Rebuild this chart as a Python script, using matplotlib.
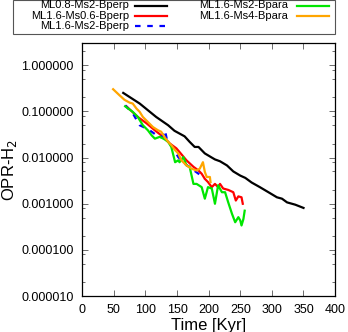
import numpy as np
import matplotlib
matplotlib.use('Agg')
import matplotlib.pyplot as plt
from matplotlib.lines import Line2D
from matplotlib.patches import Rectangle
from matplotlib.ticker import LogLocator, NullFormatter

plt.rcParams['font.family'] = ['Liberation Sans', 'DejaVu Sans']

# Series labels and colours
labels = ['ML0.8-Ms2-Bperp', 'ML1.6-Ms0.6-Bperp', 'ML1.6-Ms2-Bperp',
          'ML1.6-Ms2-Bpara', 'ML1.6-Ms4-Bpara']
colors = ['black', '#ff0000', '#0000ff', '#00e600', '#ffa500']

# time [Kyr] and log10(OPR-H2)
t_black = [65, 91, 117, 136, 146, 162, 170, 178, 184, 194, 205, 210, 218, 229,
           239, 250, 258, 268, 281, 297, 308, 316, 324, 337, 350]
l_black = [-0.60, -0.83, -1.12, -1.30, -1.42, -1.54, -1.66, -1.77, -1.77, -1.91,
           -2.00, -2.04, -2.08, -2.17, -2.30, -2.39, -2.44, -2.54, -2.64, -2.77,
           -2.86, -2.89, -2.97, -3.02, -3.09]

t_red = [70, 88, 102, 115, 128, 139, 149, 154, 165, 176, 184, 189, 194, 199,
         205, 210, 215, 218, 223, 231, 239, 243, 247, 252, 254]
l_red = [-0.89, -1.12, -1.26, -1.41, -1.55, -1.70, -1.80, -1.88, -2.06, -2.20,
         -2.28, -2.35, -2.46, -2.53, -2.64, -2.57, -2.64, -2.57, -2.67, -2.70,
         -2.75, -2.93, -2.84, -2.86, -3.00]

t_blue = [68, 80, 91, 102, 110, 123, 128, 131, 134, 144, 152, 162, 173, 184, 193]
l_blue = [-0.87, -1.04, -1.30, -1.37, -1.44, -1.57, -1.52, -1.41, -1.61, -1.80,
          -1.99, -2.13, -2.24, -2.35, -2.46]

t_green = [68, 80, 88, 96, 104, 110, 115, 123, 131, 136, 141, 147, 152, 154,
           160, 165, 170, 176, 181, 189, 194, 199, 205, 210, 215, 221, 226, 231,
           237, 242, 247, 250, 252, 255, 257]
l_green = [-0.89, -1.01, -1.12, -1.30, -1.41, -1.52, -1.59, -1.55, -1.61, -1.66,
           -1.77, -2.10, -2.06, -2.10, -1.99, -2.17, -2.20, -2.57, -2.57, -2.64,
           -2.89, -2.64, -2.67, -3.00, -2.60, -2.75, -2.75, -2.97, -3.22, -3.40,
           -3.29, -3.36, -3.47, -3.33, -3.15]

t_orange = [49, 59, 67, 75, 80, 86, 91, 96, 104, 112, 120, 125, 131, 136, 141,
            147, 152, 157, 165, 173, 181, 186, 191, 194, 197, 202, 203]
l_orange = [-0.52, -0.65, -0.75, -0.81, -0.83, -0.94, -1.01, -1.12, -1.23, -1.34,
            -1.41, -1.44, -1.57, -1.66, -1.73, -1.84, -1.91, -2.06, -2.17, -2.24,
            -2.28, -2.24, -2.10, -2.31, -2.42, -2.42, -2.53]

times = [t_black, t_red, t_blue, t_green, t_orange]
logs = [l_black, l_red, l_blue, l_green, l_orange]

fig = plt.figure(figsize=(3.48, 3.32), dpi=100)
ax = fig.add_axes([0.236, 0.108, 0.727, 0.762])

for t, l, c in zip(times, logs, colors):
    ls = (0, (2.5, 3)) if c == '#0000ff' else '-'
    ax.plot(t, 10 ** np.array(l), color=c, lw=1.6, ls=ls)

ax.set_yscale('log')
ax.set_xlim(0, 400)
ax.set_ylim(1e-5, 3)
ax.set_xticks(np.arange(0, 401, 50))
ax.set_yticks([1e-5, 1e-4, 1e-3, 1e-2, 1e-1, 1])
ax.set_yticklabels(['%.6f' % v for v in [1e-5, 1e-4, 1e-3, 1e-2, 1e-1, 1]])
ax.yaxis.set_minor_locator(LogLocator(base=10, subs=(2, 5, 8)))
ax.yaxis.set_minor_formatter(NullFormatter())
ax.tick_params(direction='in', top=True, right=True, labelsize=9, length=4,
               width=0.6, pad=6, color='#555555')
ax.tick_params(which='minor', direction='in', right=True, length=2, width=0.6,
               color='#555555')
ax.set_xlabel('Time [Kyr]', fontsize=12, labelpad=1)
ax.set_ylabel('OPR-H$_2$', fontsize=12, labelpad=2)
for s in ax.spines.values():
    s.set_linewidth(0.9)

# gnuplot-style legend on top
W, H = 348.0, 332.0
fig.patches.append(Rectangle((13 / W, 1 - 33.5 / H), 322 / W, 33 / H,
                             transform=fig.transFigure, fill=False,
                             lw=0.8, ec='#555555'))
slots = [(129, 135, 167, 5.5), (129, 135, 167, 15.8), (129, 135, 167, 26.1),
         (288, 297, 329, 5.5), (288, 297, 329, 15.8)]
for lab, c, (tx, x0, x1, y) in zip(labels, colors, slots):
    fig.text(tx / W, 1 - y / H, lab, ha='right', va='center', fontsize=8)
    ls = (0, (2.5, 3)) if c == '#0000ff' else '-'
    fig.lines.append(Line2D([x0 / W, x1 / W], [1 - y / H, 1 - y / H],
                            transform=fig.transFigure, color=c, lw=1.6, ls=ls))

fig.savefig('out.png', dpi=100)
